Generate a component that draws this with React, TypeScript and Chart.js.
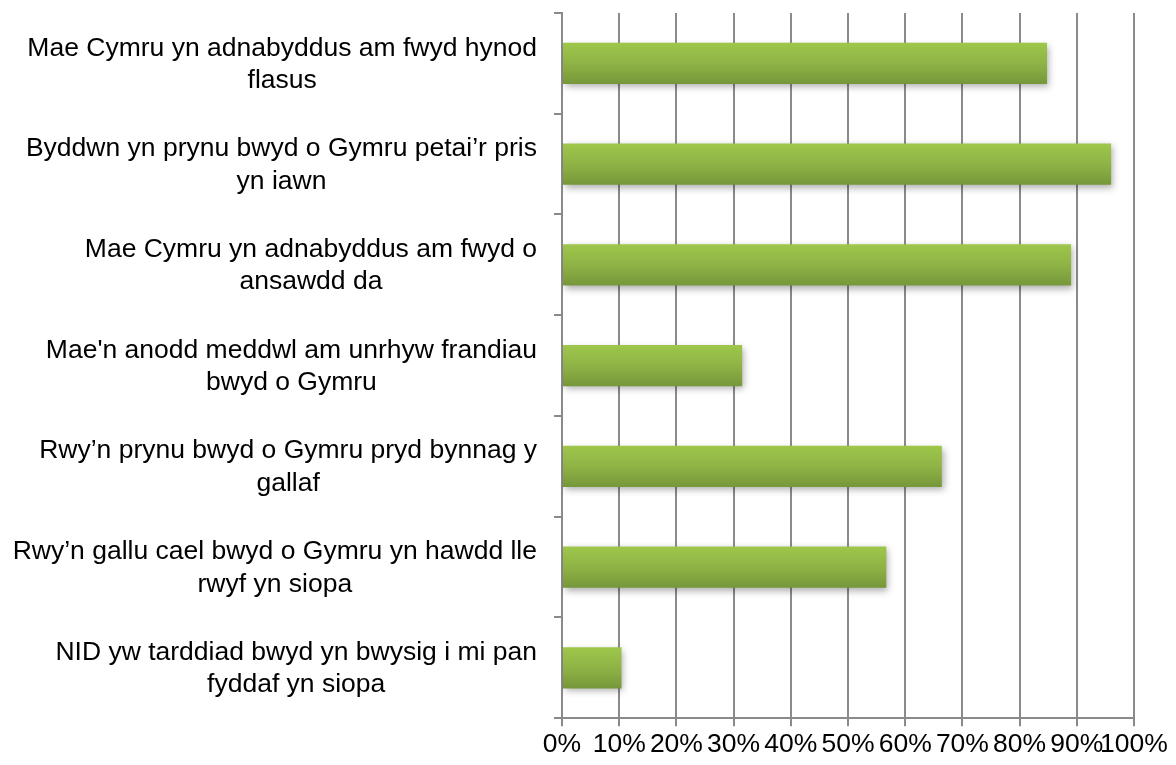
import React, { useEffect, useRef } from "react";
import { Chart, registerables } from "chart.js";

Chart.register(...registerables);

const categories: string[][] = [
  ["Mae Cymru yn adnabyddus am fwyd hynod", "flasus"],
  ["Byddwn yn prynu bwyd o Gymru petai’r pris", "yn iawn"],
  ["Mae Cymru yn adnabyddus am fwyd o", "ansawdd da"],
  ["Mae'n anodd meddwl am unrhyw frandiau", "bwyd o Gymru"],
  ["Rwy’n prynu bwyd o Gymru pryd bynnag y", "gallaf"],
  ["Rwy’n gallu cael bwyd o Gymru yn hawdd lle", "rwyf yn siopa"],
  ["NID yw tarddiad bwyd yn bwysig i mi pan", "fyddaf yn siopa"],
];

const values: number[] = [84.8, 96.0, 89.0, 31.5, 66.4, 56.7, 10.4];

const xTickLabels: string[] = ["0%", "10%", "20%", "30%", "40%", "50%", "60%", "70%", "80%", "90%", "100%"];

const FONT = "'Liberation Sans', Arial, sans-serif";
const FONT_SIZE = 26.5;
const LINE_H = FONT_SIZE * 1.22;
const GRID = "#8a8a8a";
const BAR_PCT = 0.41;
const Y_TICK_LEN = 8;
const Y_TICK_PAD = 17;
const Y_AXIS_WIDTH = 562;

const labelPlugin = {
  id: "centeredLabels",
  afterDraw(chart: any) {
    const ys = chart.scales.y;
    const ctx = chart.ctx;
    ctx.save();
    ctx.font = `${FONT_SIZE}px ${FONT}`;
    ctx.fillStyle = "#000";
    ctx.textAlign = "center";
    ctx.textBaseline = "middle";
    const rightEdge = ys.right - Y_TICK_LEN - Y_TICK_PAD;
    categories.forEach((lines, i) => {
      const yc = ys.getPixelForValue(i) + 1;
      const w = Math.max(...lines.map((l) => ctx.measureText(l).width));
      const cx = rightEdge - w / 2;
      lines.forEach((l, j) => {
        ctx.fillText(l, cx, yc + (j - (lines.length - 1) / 2) * LINE_H);
      });
    });
    ctx.restore();
  },
};

const shadowPlugin = {
  id: "barShadow",
  beforeDatasetsDraw(chart: any) {
    const ctx = chart.ctx;
    ctx.save();
    ctx.shadowColor = "rgba(0,0,0,0.32)";
    ctx.shadowBlur = 7;
    ctx.shadowOffsetX = 2;
    ctx.shadowOffsetY = 3;
  },
  afterDatasetsDraw(chart: any) {
    chart.ctx.restore();
  },
};

export default function App() {
  const ref = useRef<HTMLCanvasElement>(null);

  useEffect(() => {
    if (!ref.current) return;
    const chart = new Chart(ref.current, {
      type: "bar",
      data: {
        labels: categories,
        datasets: [
          {
            data: values,
            backgroundColor: (c: any) => {
              const ch = c.chart;
              const ys = ch.scales?.y;
              if (!ys || c.dataIndex === undefined) return "#8db446";
              const band = (ys.bottom - ys.top) / categories.length;
              const h = band * BAR_PCT;
              const yc = ys.getPixelForValue(c.dataIndex);
              if (!isFinite(yc) || !isFinite(h) || h <= 0) return "#8db446";
              const g = ch.ctx.createLinearGradient(0, yc - h / 2, 0, yc + h / 2);
              g.addColorStop(0, "#9ec74b");
              g.addColorStop(0.5, "#8fb346");
              g.addColorStop(1, "#76973a");
              return g;
            },
            borderWidth: 0,
            categoryPercentage: 1,
            barPercentage: BAR_PCT,
          },
        ],
      },
      options: {
        indexAxis: "y",
        responsive: false,
        animation: false,
        devicePixelRatio: 1,
        layout: { padding: { left: 0, right: 42, top: 13, bottom: 1 } },
        plugins: {
          legend: { display: false },
          tooltip: { enabled: false },
        },
        scales: {
          x: {
            min: 0,
            max: 100,
            ticks: {
              stepSize: 10,
              color: "#000",
              font: { family: FONT, size: FONT_SIZE },
              padding: 3,
              maxRotation: 0,
              autoSkip: false,
              callback: (_v: any, i: number) => xTickLabels[i],
            },
            grid: { color: GRID, lineWidth: 2, tickLength: 8 },
            border: { color: GRID, width: 2 },
          },
          y: {
            afterFit: (s: any) => {
              s.width = Y_AXIS_WIDTH;
            },
            ticks: { display: false },
            grid: {
              offset: true,
              drawOnChartArea: false,
              color: GRID,
              lineWidth: 2,
              tickLength: Y_TICK_LEN,
            },
            border: { color: GRID, width: 2 },
          },
        },
      },
      plugins: [shadowPlugin, labelPlugin],
    });
    return () => chart.destroy();
  }, []);

  return (
    <div style={{ position: "absolute", left: 0, top: 0, width: 1176, height: 765, background: "#fff" }}>
      <canvas ref={ref} width={1176} height={765} />
    </div>
  );
}
